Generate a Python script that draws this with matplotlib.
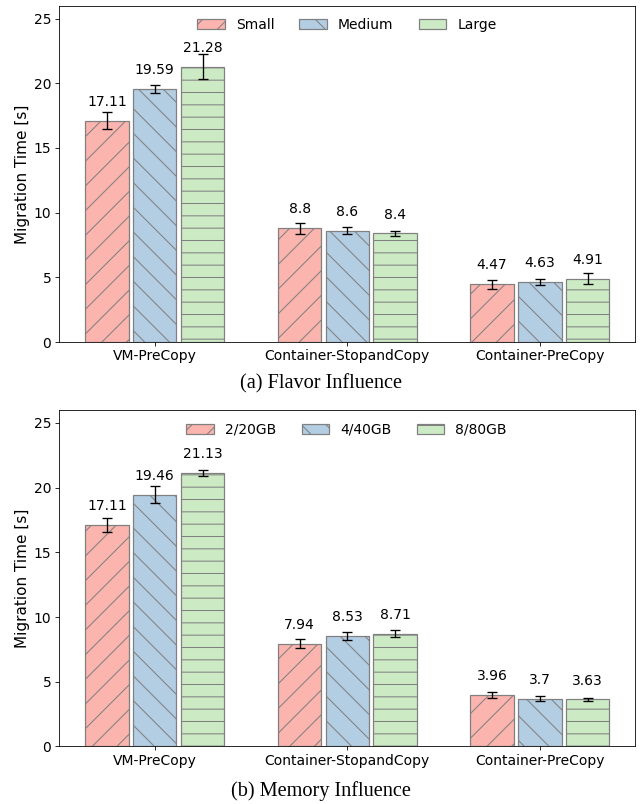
import matplotlib.pyplot as plt
import numpy as np

methods = ['VM-PreCopy', 'Container-StopandCopy', 'Container-PreCopy']

flavor_labels = ['Small', 'Medium', 'Large']
flavor_small = [17.11, 8.8, 4.47]
flavor_medium = [19.59, 8.6, 4.63]
flavor_large = [21.28, 8.4, 4.91]
flavor_small_err = [0.64, 0.42, 0.35]
flavor_medium_err = [0.31, 0.27, 0.23]
flavor_large_err = [0.95, 0.18, 0.45]

memory_labels = ['2/20GB', '4/40GB', '8/80GB']
memory_2gb = [17.11, 7.94, 3.96]
memory_4gb = [19.46, 8.53, 3.7]
memory_8gb = [21.13, 8.71, 3.63]
memory_2gb_err = [0.55, 0.37, 0.21]
memory_4gb_err = [0.66, 0.31, 0.2]
memory_8gb_err = [0.26, 0.27, 0.09]

colors = ['#fbb4ae', '#b3cde3', '#ccebc5']
hatches = ['/', '\\', '-']

DPI = 74
plt.rcParams['hatch.linewidth'] = 1.0
plt.rcParams['font.family'] = 'DejaVu Sans'


def draw_panel(ax, labels, series, errs):
    x = np.arange(len(methods))
    width = 0.225
    step = 0.248
    for i in range(3):
        pos = x + (i - 1) * step
        ax.bar(pos, series[i], width, yerr=errs[i], color=colors[i],
               edgecolor='grey', linewidth=1.2, hatch=hatches[i], label=labels[i],
               error_kw=dict(ecolor='black', elinewidth=1.3, capsize=5, capthick=1.3))
        # value on top of every bar
        for px, val in zip(pos, series[i]):
            ax.annotate(f'{val:g}', (px, val), xytext=(0, 11.5), textcoords='offset points',
                        ha='center', va='bottom', fontsize=13.5)
    ax.set_xticks(x)
    ax.set_xticklabels(methods, fontsize=13.5)
    ax.set_yticks([0, 5, 10, 15, 20, 25])
    ax.tick_params(axis='y', labelsize=13.5)
    ax.set_xlim(-0.5, 2.494)
    ax.set_ylim(0, 26)
    ax.set_ylabel('Migration Time [s]', fontsize=14.9)
    ax.legend(loc='upper center', ncol=3, frameon=False, fontsize=13.5, columnspacing=1.8)


fig = plt.figure(figsize=(641 / DPI, 804 / DPI), dpi=DPI)
ax1 = fig.add_axes([0.0913, 0.5746, 0.8993, 0.4183])
ax2 = fig.add_axes([0.0913, 0.0716, 0.8993, 0.4184])

draw_panel(ax1, flavor_labels, [flavor_small, flavor_medium, flavor_large],
           [flavor_small_err, flavor_medium_err, flavor_large_err])
draw_panel(ax2, memory_labels, [memory_2gb, memory_4gb, memory_8gb],
           [memory_2gb_err, memory_4gb_err, memory_8gb_err])

fig.text(0.5, 0.5224, '(a) Flavor Influence', ha='center', va='center',
         family='Liberation Serif', fontsize=19.7)
fig.text(0.5, 0.0162, '(b) Memory Influence', ha='center', va='center',
         family='Liberation Serif', fontsize=19.7)

fig.savefig('out.png', dpi=DPI)
